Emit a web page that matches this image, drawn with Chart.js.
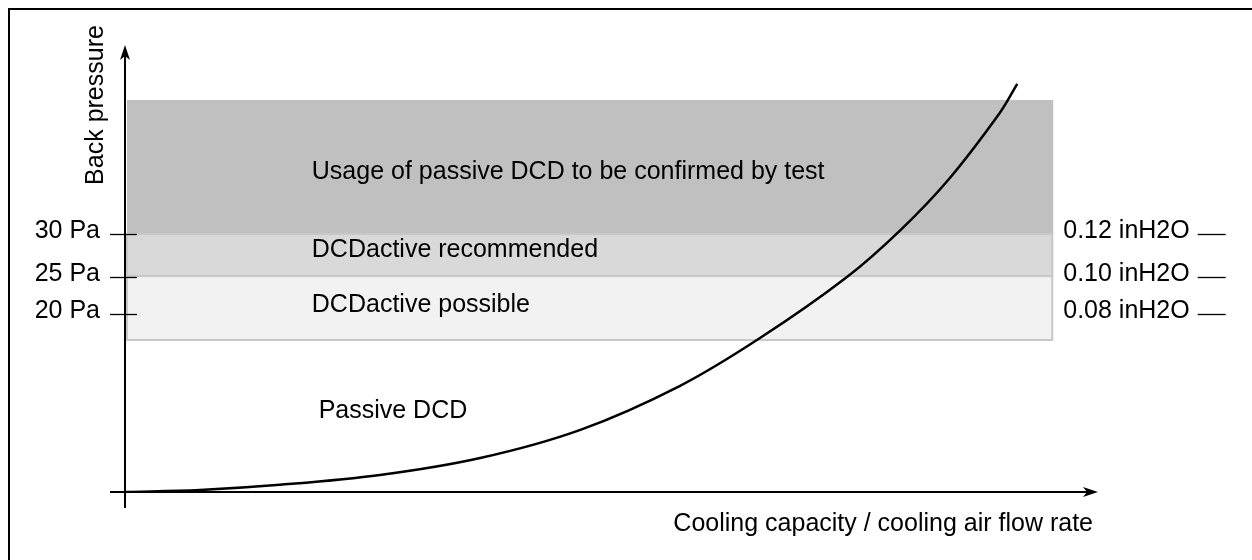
<!DOCTYPE html>
<html>
<head>
<meta charset="utf-8">
<script src="https://cdn.jsdelivr.net/npm/chart.js@4.4.0/dist/chart.umd.min.js"></script>
<style>
  html, body { margin: 0; padding: 0; background: #fff; }
  #wrap { width: 1252px; height: 560px; position: relative; }
</style>
</head>
<body>
<div id="wrap"><canvas id="myChart" width="1252" height="560"></canvas></div>
<script>
// curve: back pressure vs cooling air flow (schematic units 0..100)
var curveX = [0, 7.7, 15.9, 26.2, 36.5, 46.8, 57.0, 65.3, 74.2, 79.7, 84.6, 89.9, 91.7];
var curveY = [0, 0.45, 1.6, 3.8, 7.6, 13.9, 23.7, 34.5, 48.1, 58.6, 69.8, 84.8, 91.3];

// shaded zones
var bandLabels = ['Usage of passive DCD to be confirmed by test', 'DCDactive recommended', 'DCDactive possible'];
var bandTop = [87.7, 57.7, 48.3];
var bandBottom = [57.7, 48.3, 34.0];
var bandEnd = 95.4;
var bandLabelY = [71.6, 54.1, 41.8];
var bandColors = ['#c0c0c0', '#d9d9d9', '#f2f2f2'];

// pressure ticks
var tickValues = [57.7, 48.1, 39.8];
var paLabels = ['30 Pa', '25 Pa', '20 Pa'];
var inH2OLabels = ['0.12 inH2O', '0.10 inH2O', '0.08 inH2O'];

var passiveLabel = 'Passive DCD';
var passiveX = 19.9;
var passiveY = 18.1;
var textX = 19.2;

var yTitle = 'Back pressure';
var xTitle = 'Cooling capacity / cooling air flow rate';

var fontName = '"Liberation Sans", Arial, sans-serif';
var fontSize = 25;

var curveData = [];
for (let i = 0; i < curveX.length; i++) {
    curveData.push({x: curveX[i], y: curveY[i]});
}

const bandsPlugin = {
    id: 'bands',
    beforeDatasetsDraw(chart) {
        const ctx = chart.ctx;
        const xs = chart.scales.x;
        const ys = chart.scales.y;
        ctx.save();
        for (let i = 0; i < bandTop.length; i++) {
            let x0 = xs.getPixelForValue(0) + 2;
            let x1 = xs.getPixelForValue(bandEnd);
            let y0 = ys.getPixelForValue(bandTop[i]);
            let y1 = ys.getPixelForValue(bandBottom[i]);
            ctx.fillStyle = bandColors[i];
            ctx.fillRect(x0, y0, x1 - x0, y1 - y0);
            if (i > 0) {
                ctx.strokeStyle = '#c8c8c8';
                ctx.lineWidth = 2;
                ctx.strokeRect(x0, y0, x1 - x0 - 1, y1 - y0);
            }
        }
        ctx.fillStyle = '#000';
        ctx.font = fontSize + 'px ' + fontName;
        ctx.textBaseline = 'middle';
        ctx.textAlign = 'left';
        for (let i = 0; i < bandLabels.length; i++) {
            ctx.fillText(bandLabels[i], xs.getPixelForValue(textX), ys.getPixelForValue(bandLabelY[i]));
        }
        ctx.fillText(passiveLabel, xs.getPixelForValue(passiveX), ys.getPixelForValue(passiveY));
        ctx.restore();
    }
};

const axesPlugin = {
    id: 'arrowAxes',
    afterDatasetsDraw(chart) {
        const ctx = chart.ctx;
        const xs = chart.scales.x;
        const ys = chart.scales.y;
        const area = chart.chartArea;
        const ox = xs.getPixelForValue(0);
        const oy = ys.getPixelForValue(0);
        ctx.save();
        ctx.strokeStyle = '#000';
        ctx.fillStyle = '#000';
        ctx.lineWidth = 2;

        // outer frame (left and top only)
        ctx.beginPath();
        ctx.moveTo(9, 560);
        ctx.lineTo(9, 9);
        ctx.lineTo(1252, 9);
        ctx.stroke();

        // y axis
        ctx.beginPath();
        ctx.moveTo(ox, oy + 16);
        ctx.lineTo(ox, area.top + 4);
        ctx.stroke();
        ctx.beginPath();
        ctx.moveTo(ox, area.top);
        ctx.lineTo(ox - 5, area.top + 15);
        ctx.lineTo(ox, area.top + 11);
        ctx.lineTo(ox + 5, area.top + 15);
        ctx.closePath();
        ctx.fill();

        // x axis
        ctx.beginPath();
        ctx.moveTo(ox - 15, oy);
        ctx.lineTo(area.right - 4, oy);
        ctx.stroke();
        ctx.beginPath();
        ctx.moveTo(area.right, oy);
        ctx.lineTo(area.right - 15, oy - 5);
        ctx.lineTo(area.right - 11, oy);
        ctx.lineTo(area.right - 15, oy + 5);
        ctx.closePath();
        ctx.fill();

        // pressure ticks
        ctx.lineWidth = 1.3;
        ctx.font = fontSize + 'px ' + fontName;
        ctx.textBaseline = 'middle';
        const rightX = xs.getPixelForValue(bandEnd) + 10;
        for (let i = 0; i < tickValues.length; i++) {
            let py = Math.round(ys.getPixelForValue(tickValues[i])) + 0.5;
            ctx.beginPath();
            ctx.moveTo(ox - 15, py);
            ctx.lineTo(ox + 12, py);
            ctx.stroke();
            ctx.textAlign = 'right';
            ctx.fillText(paLabels[i], ox - 25, py - 3);
            ctx.textAlign = 'left';
            ctx.fillText(inH2OLabels[i], rightX, py - 3);
            let w = ctx.measureText(inH2OLabels[i]).width;
            ctx.beginPath();
            ctx.moveTo(rightX + w + 8, py);
            ctx.lineTo(rightX + w + 36, py);
            ctx.stroke();
        }

        // axis titles
        ctx.textAlign = 'right';
        ctx.fillText(xTitle, area.right - 5, oy + 32);
        ctx.translate(ox - 29, 105);
        ctx.rotate(-Math.PI / 2);
        ctx.textAlign = 'center';
        ctx.fillText(yTitle, 0, 0);
        ctx.restore();
    }
};

new Chart(document.getElementById('myChart'), {
    type: 'line',
    data: {
        datasets: [{
            label: 'Passive DCD',
            data: curveData,
            borderColor: '#000',
            borderWidth: 2.5,
            pointRadius: 0,
            tension: 0.35,
            fill: false
        }]
    },
    options: {
        responsive: false,
        animation: false,
        layout: {padding: {left: 125, right: 154, top: 45, bottom: 68}},
        scales: {
            x: {type: 'linear', min: 0, max: 100, display: false},
            y: {type: 'linear', min: 0, max: 100, display: false}
        },
        plugins: {legend: {display: false}, tooltip: {enabled: false}}
    },
    plugins: [bandsPlugin, axesPlugin]
});
</script>
</body>
</html>
